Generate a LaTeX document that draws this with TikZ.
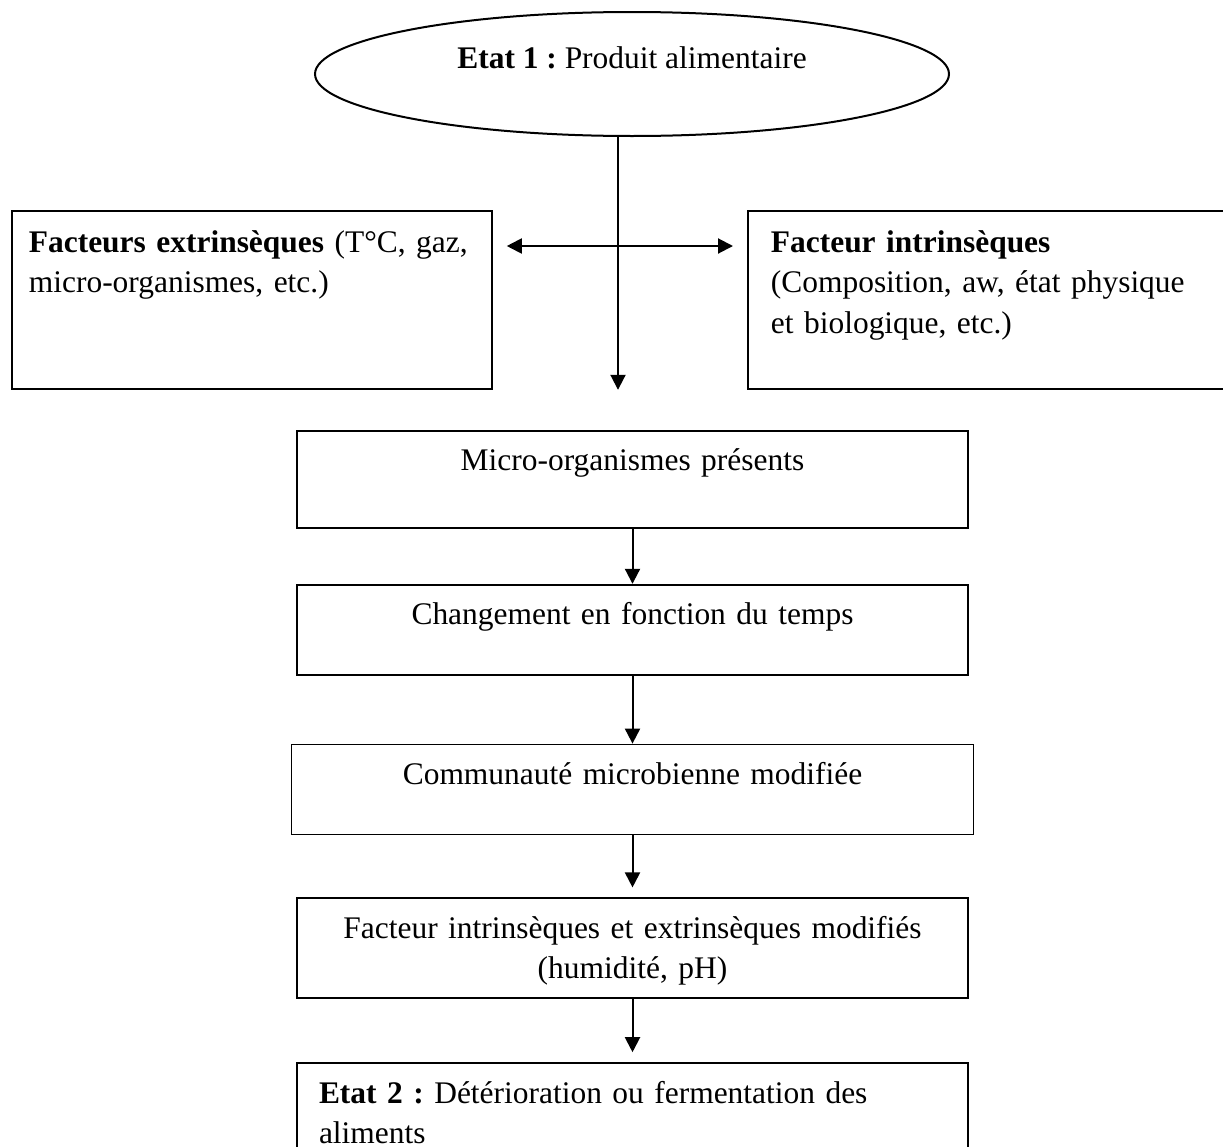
\documentclass[tikz,border=0pt]{standalone}
\usepackage{fontspec}
\setmainfont{Liberation Serif}
\usetikzlibrary{arrows.meta,positioning,shapes.geometric}
\newlength{\pu}
\setlength{\pu}{0.02cm}

\begin{document}
\begin{tikzpicture}[
  x=0.02cm, y=-0.02cm,
  every node/.style={font=\fontsize{17.9}{22.8}\selectfont\frenchspacing},
  box/.style={draw, line width=1.8\pu, inner xsep=22\pu, inner ysep=0pt, minimum width=671\pu, text width=627\pu, align=center, text height=40\pu},
  sidebox/.style={draw, line width=1.8\pu, inner xsep=17\pu, inner ysep=0pt, text height=42\pu, text depth=136\pu, align=left},
  oval/.style={draw, ellipse, line width=2\pu, inner sep=0pt, minimum width=634\pu, minimum height=124\pu, text height=22\pu, text depth=34\pu},
  arr/.style={-{Triangle[length=0.3cm,width=0.3cm]}, line width=0.04cm},
  twoarr/.style={{Triangle[length=0.3cm,width=0.3cm]}-{Triangle[length=0.3cm,width=0.3cm]}, line width=0.04cm, shorten <=0.28cm, shorten >=0.28cm}
]
\useasboundingbox (0,0) rectangle (1223,1146);
\fill[white] (0,0) rectangle (1223,1146);

\node[oval] (etat1) at (632,74) {\textbf{Etat 1 :} Produit alimentaire};

\node[sidebox, anchor=north west, text width=446\pu] (ext) at (11,210)
  {\textbf{Facteurs extrinsèques} (T°C, gaz,\\micro-organismes, etc.)};

\node[sidebox, anchor=north west, inner xsep=23\pu, text width=439\pu] (intr) at (747,210)
  {\textbf{Facteur intrinsèques}\\(Composition, aw, état physique\\et biologique, etc.)};

\node[box, text depth=57\pu, anchor=north] (micro) at (632.5,430) {Micro-organismes présents};

\node[box, text depth=50\pu, below=55\pu of micro] (chg) {Changement en fonction du temps};

\node[box, text depth=50\pu, minimum width=682\pu, text width=638\pu, below=68\pu of chg] (comm)
  {Communauté microbienne modifiée};

\node[box, text depth=60\pu, below=62\pu of comm] (fact)
  {Facteur intrinsèques et extrinsèques modifiés\\(humidité, pH)};

\node[box, text depth=75\pu, align=left, below=63\pu of fact] (etat2)
  {\textbf{Etat 2 :} Détérioration ou fermentation des\\aliments};

\coordinate (hub) at (618,246);
\draw[arr] (etat1.south -| hub) -- (hub |- ext.south);
\draw[twoarr] (hub -| ext.east) -- (hub -| intr.west);

\draw[arr] (micro) -- (chg);
\draw[arr] (chg) -- (comm);
\draw[arr, shorten >=0.2cm] (comm) -- (fact);
\draw[arr, shorten >=0.2cm] (fact) -- (etat2);

\end{tikzpicture}
\end{document}
